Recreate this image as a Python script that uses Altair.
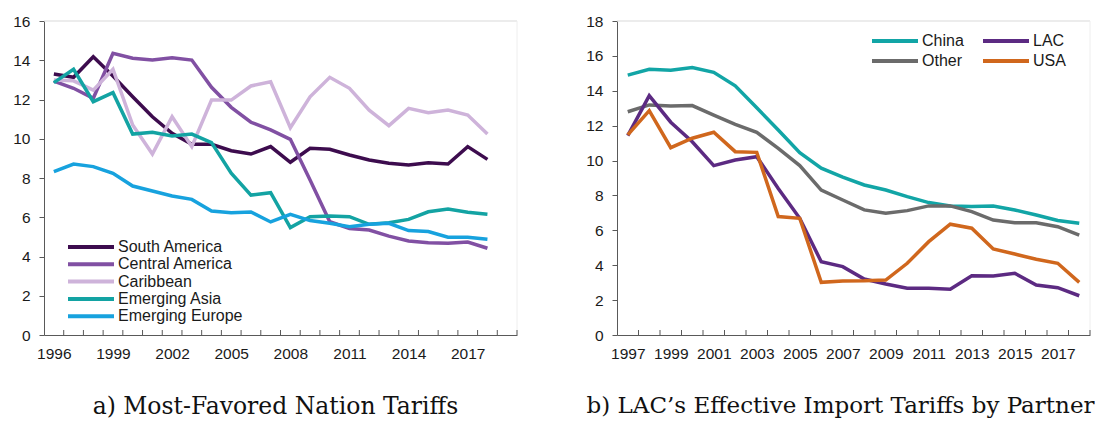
import altair as alt
import pandas as pd

# ---------------- Panel a: Most-Favored Nation Tariffs ----------------
years_a = list(range(1996, 2019))
south_america = [13.3, 13.13, 14.18, 13.2, 12.14, 11.12, 10.28, 9.72, 9.72, 9.39, 9.22, 9.6,
                 8.8, 9.51, 9.46, 9.17, 8.92, 8.75, 8.66, 8.78, 8.71, 9.6, 8.95]
central_america = [12.94, 12.57, 12.06, 14.35, 14.1, 14.01, 14.13, 14.01, 12.62, 11.6, 10.84, 10.45,
                   9.97, 7.9, 5.77, 5.43, 5.35, 5.04, 4.79, 4.70, 4.67, 4.74, 4.42]
caribbean = [12.99, 12.95, 12.48, 13.54, 10.7, 9.22, 11.12, 9.6, 11.97, 11.97, 12.69, 12.9,
             10.56, 12.14, 13.13, 12.57, 11.46, 10.67, 11.55, 11.33, 11.46, 11.21, 10.24]
emerging_asia = [12.86, 13.54, 11.89, 12.35, 10.24, 10.33, 10.14, 10.24, 9.8, 8.24, 7.13, 7.25,
                 5.47, 6.03, 6.06, 6.03, 5.64, 5.72, 5.89, 6.28, 6.42, 6.25, 6.15]
emerging_europe = [8.32, 8.71, 8.58, 8.24, 7.59, 7.34, 7.08, 6.91, 6.32, 6.23, 6.27, 5.76,
                   6.15, 5.83, 5.69, 5.52, 5.64, 5.69, 5.32, 5.27, 4.98, 4.98, 4.88]
series_a = ["South America", "Central America", "Caribbean", "Emerging Asia", "Emerging Europe"]
colors_a = ["#3d0c4e", "#8150a3", "#ceb3da", "#13a3a3", "#17a2de"]
label_years_a = [1996, 1999, 2002, 2005, 2008, 2011, 2014, 2017]
title_a = "a) Most-Favored Nation Tariffs"

# ---------------- Panel b: LAC's Effective Import Tariffs by Partner ----------------
years_b = list(range(1997, 2019))
china = [14.9, 15.23, 15.18, 15.33, 15.06, 14.28, 13.03, 11.75, 10.45, 9.56, 9.05,
         8.6, 8.31, 7.93, 7.59, 7.4, 7.36, 7.4, 7.17, 6.88, 6.56, 6.4]
other = [12.8, 13.19, 13.13, 13.15, 12.61, 12.08, 11.62, 10.7, 9.71, 8.31, 7.74,
         7.17, 6.98, 7.13, 7.4, 7.4, 7.07, 6.59, 6.44, 6.44, 6.21, 5.73]
lac = [11.43, 13.72, 12.2, 11.08, 9.71, 10.03, 10.22, 8.4, 6.69, 4.2, 3.92,
       3.21, 2.92, 2.68, 2.68, 2.62, 3.4, 3.38, 3.54, 2.87, 2.71, 2.25]
usa = [11.47, 12.86, 10.74, 11.28, 11.62, 10.51, 10.47, 6.79, 6.69, 3.02, 3.1,
       3.11, 3.15, 4.11, 5.35, 6.35, 6.12, 4.93, 4.64, 4.34, 4.11, 3.02]
series_b = ["China", "Other", "LAC", "USA"]
colors_b = ["#12a5a6", "#6b6b6b", "#5c2a82", "#d0671d"]
label_years_b = [1997, 1999, 2001, 2003, 2005, 2007, 2009, 2011, 2013, 2015, 2017]
title_b = "b) LAC\u2019s Effective Import Tariffs by Partner"

W, H = 473, 314
FONT = "Liberation Sans"
AX = "#595959"
TXT = "#1a1a1a"


def long_df(years, named):
    rows = []
    for name, vals in named:
        for y, v in zip(years, vals):
            rows.append({"year": y, "value": v, "series": name})
    return pd.DataFrame(rows)


df_a = long_df(years_a, [("South America", south_america), ("Central America", central_america),
                         ("Caribbean", caribbean), ("Emerging Asia", emerging_asia),
                         ("Emerging Europe", emerging_europe)])
df_b = long_df(years_b, [("China", china), ("Other", other), ("LAC", lac), ("USA", usa)])


def panel(df, xdom, series, colors, ymax, label_years, legend, title, tsize, tdx):
    tick_df = pd.DataFrame({"pos": [xdom[0] + 1 + k for k in range(int(xdom[1] - xdom[0]))]})
    xscale = alt.Scale(domain=xdom, nice=False, zero=False)
    xaxis = alt.Axis(values=label_years, format="d", ticks=False, tickSize=0, grid=False,
                     domainColor=AX, domainWidth=1, labelFont=FONT, labelFontSize=15.5,
                     labelColor=TXT, labelPadding=11, labelFlush=False, labelOverlap=False,
                     title=None)
    yaxis = alt.Axis(values=list(range(0, ymax + 1, 2)), grid=False, tickSize=5, tickColor=AX,
                     domainColor=AX, domainWidth=1, labelFont=FONT, labelFontSize=15.5,
                     labelColor=TXT, labelPadding=9, labelFlush=False, title=None)
    ticks = alt.Chart(tick_df).mark_rule(color=AX, strokeWidth=1).encode(
        x=alt.X("pos:Q", scale=xscale, axis=xaxis),
        y=alt.value(H), y2=alt.value(H - 5))
    lines = alt.Chart(df).mark_line(strokeWidth=3.5).encode(
        x=alt.X("year:Q", scale=xscale, axis=xaxis),
        y=alt.Y("value:Q", scale=alt.Scale(domain=[0, ymax], nice=False), axis=yaxis),
        color=alt.Color("series:N", scale=alt.Scale(domain=series, range=colors),
                        sort=series, legend=legend))
    frame = pd.DataFrame({"k": [0]})
    top = alt.Chart(frame).mark_rule(color="#d9d9d9", strokeWidth=1).encode(
        x=alt.value(0), x2=alt.value(W), y=alt.value(0))
    right = alt.Chart(frame).mark_rule(color="#eeeeee", strokeWidth=1).encode(
        x=alt.value(W), y=alt.value(0), y2=alt.value(H))
    return alt.layer(top, right, ticks, lines).properties(
        width=W, height=H,
        title=alt.TitleParams(title, orient="bottom", anchor="middle", font="DejaVu Serif",
                              fontSize=tsize, fontWeight="normal", color="#111111", offset=33,
                              dx=tdx))


legend_a = alt.Legend(orient="none", legendX=22, legendY=218, direction="vertical", title=None,
                      symbolType="stroke", symbolSize=2116, symbolStrokeWidth=4,
                      labelFont=FONT, labelFontSize=16, labelColor=TXT, labelOffset=2,
                      rowPadding=1.3, padding=0, clipHeight=16)
legend_b = alt.Legend(orient="none", legendX=253, legendY=12, direction="vertical", title=None,
                      columns=2, symbolType="stroke", symbolSize=2116, symbolStrokeWidth=4,
                      labelFont=FONT, labelFontSize=16, labelColor=TXT, labelOffset=2,
                      rowPadding=4, columnPadding=17, padding=0, clipHeight=16)

pa = panel(df_a, [1995.5, 2019.5], series_a, colors_a, 16, label_years_a, legend_a, title_a, 23.5, -5)
pb = panel(df_b, [1996.5, 2018.5], series_b, colors_b, 18, label_years_b, legend_b, title_b, 23, -13)

chart = alt.hconcat(pa, pb, spacing=100, bounds="flush").resolve_scale(
    color="independent"
).resolve_legend(color="independent").properties(
    padding={"left": 4, "top": 5, "right": 0, "bottom": 0}
).configure_view(stroke="transparent")

chart.save("out.html", embed_options={"renderer": "svg", "actions": False})
